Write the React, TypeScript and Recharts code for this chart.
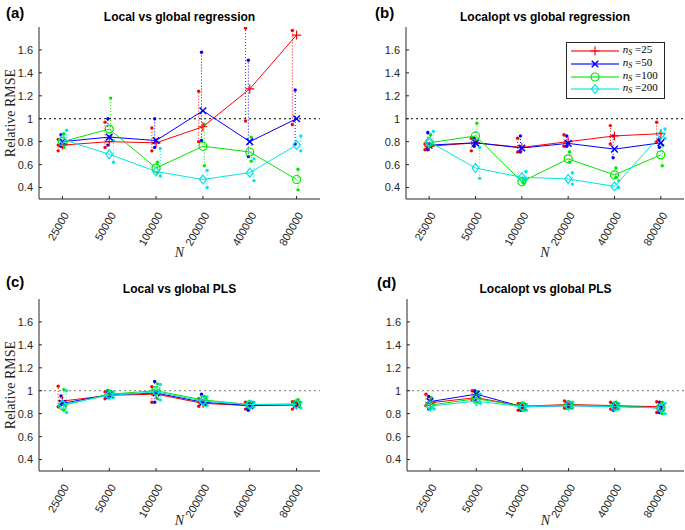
import React from 'react';
import { ComposedChart, Scatter, XAxis, YAxis, ReferenceLine, Legend } from 'recharts';

const nValues = ['25000', '50000', '100000', '200000', '400000', '800000'];
const nsValues = ['25', '50', '100', '200'];
const colors = ['#ff0000', '#0000ff', '#00e600', '#00e5e5'];
const markers = ['plus', 'cross', 'circle', 'diamond'];
const runOffsets = [-0.09, -0.03, 0.03, 0.09];
const yTicks = [0.4, 0.6, 0.8, 1, 1.2, 1.4, 1.6];

// (a) local vs global regression
const regLocalMean = [
  [0.77, 0.8, 0.79, 0.93, 1.26, 1.73],
  [0.8, 0.84, 0.81, 1.07, 0.8, 1.0],
  [0.8, 0.91, 0.57, 0.76, 0.71, 0.47],
  [0.82, 0.69, 0.54, 0.47, 0.53, 0.77],
];
const regLocalRuns = [
  [[0.72, 0.77, 0.82], [0.75, 0.97], [0.72, 0.92], [0.8, 1.24], [0.98, 1.79], [0.95, 1.77]],
  [[0.76, 0.86], [0.77, 1.0], [0.75, 1.0], [0.81, 1.58], [0.67, 1.51], [0.78, 1.25]],
  [[0.75, 0.87], [0.85, 1.18], [0.53, 0.62], [0.59, 0.95], [0.63, 0.84], [0.38, 0.56]],
  [[0.78, 0.9], [0.62, 0.81], [0.5, 0.74], [0.4, 0.55], [0.46, 0.65], [0.72, 0.85]],
];

// (b) localopt vs global regression
const regOptMean = [
  [0.76, 0.79, 0.75, 0.8, 0.85, 0.87],
  [0.77, 0.79, 0.745, 0.785, 0.735, 0.79],
  [0.79, 0.85, 0.45, 0.65, 0.51, 0.685],
  [0.8, 0.57, 0.49, 0.475, 0.41, 0.86],
];
const regOptRuns = [
  [[0.73, 0.78], [0.72, 0.83], [0.71, 0.83], [0.76, 0.86], [0.78, 0.94], [0.8, 0.97]],
  [[0.73, 0.88], [0.76, 0.83], [0.71, 0.85], [0.76, 0.85], [0.66, 0.85], [0.75, 0.82]],
  [[0.76, 0.86], [0.8, 0.96], [0.44, 0.48], [0.62, 0.71], [0.49, 0.57], [0.59, 0.77]],
  [[0.77, 0.89], [0.48, 0.75], [0.47, 0.54], [0.43, 0.53], [0.4, 0.46], [0.83, 0.91]],
];

// (c) local vs global PLS
const plsLocalMean = [
  [0.91, 0.96, 0.97, 0.89, 0.87, 0.875],
  [0.89, 0.965, 0.98, 0.9, 0.87, 0.88],
  [0.87, 0.97, 1.0, 0.92, 0.88, 0.885],
  [0.88, 0.96, 0.99, 0.91, 0.88, 0.88],
];
const plsLocalRuns = [
  [[0.86, 1.04], [0.93, 0.99], [0.9, 1.035], [0.865, 0.93], [0.84, 0.9], [0.84, 0.905]],
  [[0.88, 0.955], [0.94, 1.0], [0.9, 1.08], [0.89, 0.97], [0.83, 0.89], [0.86, 0.9]],
  [[0.83, 1.01], [0.95, 0.995], [0.93, 1.06], [0.875, 0.95], [0.86, 0.9], [0.87, 0.925]],
  [[0.81, 1.0], [0.94, 0.99], [0.92, 1.055], [0.87, 0.945], [0.86, 0.9], [0.85, 0.9]],
];

// (d) localopt vs global PLS
const plsOptMean = [
  [0.895, 0.94, 0.865, 0.88, 0.87, 0.86],
  [0.905, 0.97, 0.86, 0.87, 0.865, 0.85],
  [0.875, 0.93, 0.865, 0.875, 0.865, 0.85],
  [0.865, 0.91, 0.86, 0.87, 0.86, 0.85],
];
const plsOptRuns = [
  [[0.87, 0.97], [0.92, 1.0], [0.83, 0.89], [0.85, 0.91], [0.84, 0.9], [0.81, 0.905]],
  [[0.84, 0.95], [0.92, 1.0], [0.83, 0.89], [0.85, 0.9], [0.83, 0.89], [0.81, 0.9]],
  [[0.85, 0.94], [0.9, 0.99], [0.83, 0.89], [0.85, 0.9], [0.84, 0.9], [0.8, 0.9]],
  [[0.84, 0.9], [0.89, 0.97], [0.83, 0.88], [0.85, 0.9], [0.84, 0.89], [0.8, 0.89]],
];

const AXIS = '#262626';
const SANS = '"Liberation Sans", Arial, Helvetica, sans-serif';
const SERIF = '"Liberation Serif", "DejaVu Serif", serif';

function drawMarker(kind: string, cx: number, cy: number, color: string) {
  if (kind === 'plus')
    return <path d={`M${cx - 4.5},${cy}H${cx + 4.5}M${cx},${cy - 4.5}V${cy + 4.5}`} stroke={color} strokeWidth={1.2} fill="none" />;
  if (kind === 'cross')
    return (
      <path
        d={`M${cx - 3.3},${cy - 3.3}L${cx + 3.3},${cy + 3.3}M${cx - 3.3},${cy + 3.3}L${cx + 3.3},${cy - 3.3}`}
        stroke={color}
        strokeWidth={1.5}
        fill="none"
      />
    );
  if (kind === 'circle') return <circle cx={cx} cy={cy} r={4} stroke={color} strokeWidth={1.2} fill="none" />;
  return <path d={`M${cx},${cy - 4.5}L${cx + 3.5},${cy}L${cx},${cy + 4.5}L${cx - 3.5},${cy}Z`} stroke={color} strokeWidth={1.2} fill="none" />;
}

const NTick = (props: any) => {
  const { x, y, payload } = props;
  const label = nValues[Math.round(payload.value) - 1];
  const ax = x + 7;
  const ay = y + 16;
  return (
    <text x={ax} y={ay} textAnchor="end" transform={`rotate(-60 ${ax} ${ay})`} fontSize={11} fill={AXIS} fontFamily={SANS}>
      {label}
    </text>
  );
};

const yLabelContent = (props: any) => {
  const vb = props.viewBox || { x: 0, y: 27, width: 39, height: 172 };
  const cx = vb.x + 10;
  const cy = vb.y + vb.height / 2;
  return (
    <text x={cx} y={cy} transform={`rotate(-90 ${cx} ${cy})`} textAnchor="middle" dominantBaseline="central" fontFamily={SERIF} fontSize={14} fill={AXIS}>
      Relative RMSE
    </text>
  );
};

const makeNLabel = (offset: number) => (props: any) => {
  const vb = props.viewBox || { x: 39, y: 199, width: 281, height: 66 };
  return (
    <text x={vb.x + vb.width / 2} y={vb.y + offset} textAnchor="middle" fontFamily={SERIF} fontStyle="italic" fontSize={14} fill={AXIS}>
      N
    </text>
  );
};

const LegendBox = () => (
  <div
    style={{
      width: 99,
      height: 57,
      boxSizing: 'border-box',
      border: `1px solid ${AXIS}`,
      background: '#fff',
      paddingTop: 2,
      fontFamily: SERIF,
      fontSize: 11,
      color: '#000',
    }}
  >
    {nsValues.map((ns, i) => (
      <div key={ns} style={{ display: 'flex', alignItems: 'center', height: 12.8 }}>
        <svg width={56} height={12} style={{ flex: 'none' }}>
          <line x1={4} y1={6} x2={52} y2={6} stroke={colors[i]} strokeWidth={1.5} opacity={0.75} />
          {drawMarker(markers[i], 28, 6, colors[i])}
        </svg>
        <span style={{ lineHeight: '12px', whiteSpace: 'nowrap' }}>
          <i>n</i>
          <sub style={{ fontSize: 8, fontStyle: 'italic', verticalAlign: -2 }}>S</sub>
          {' '}={ns}
        </span>
      </div>
    ))}
  </div>
);

type PanelProps = {
  letter: string;
  title: string;
  means: number[][];
  runs: number[][][];
  left: number;
  top: number;
  width: number;
  marginTop: number;
  marginRight: number;
  yAxisWidth: number;
  xAxisHeight: number;
  nOffset: number;
  yLabel?: boolean;
  legend?: boolean;
  refColor: string;
  titleTop: number;
  letterLeft: number;
  letterTop: number;
};

const Panel: React.FC<PanelProps> = (p) => {
  const plotLeft = p.yAxisWidth;
  const plotWidth = p.width - p.yAxisWidth - p.marginRight;
  // one dotted min-max segment per series and N
  const ranges = p.runs.flatMap((sr, s) =>
    sr.map((vals, i) => ({
      key: `range${s}-${i}`,
      color: colors[s],
      data: [
        { x: i + 1 + runOffsets[s], y: Math.min(...vals) },
        { x: i + 1 + runOffsets[s], y: Math.max(...vals) },
      ],
    }))
  );
  return (
    <div style={{ position: 'absolute', left: p.left, top: p.top, width: p.width, height: 265 }}>
      <ComposedChart width={p.width} height={265} margin={{ top: p.marginTop, right: p.marginRight, bottom: 0, left: 0 }}>
        <XAxis
          type="number"
          dataKey="x"
          domain={[0.5, 6.5]}
          ticks={[1, 2, 3, 4, 5, 6]}
          interval={0}
          height={p.xAxisHeight}
          tickSize={-3}
          tickMargin={3}
          tick={<NTick />}
          stroke={AXIS}
          allowDataOverflow
          label={makeNLabel(p.nOffset)}
        />
        <YAxis
          type="number"
          dataKey="y"
          domain={[0.3, 1.8]}
          ticks={yTicks}
          interval={0}
          width={p.yAxisWidth}
          tickSize={-3}
          tickMargin={9}
          tick={{ fontSize: 11, fill: AXIS, fontFamily: SANS }}
          stroke={AXIS}
          allowDataOverflow
          label={p.yLabel ? yLabelContent : undefined}
        />
        <ReferenceLine y={1} stroke={p.refColor} strokeDasharray="2 3" strokeWidth={1} />
        {ranges.map((r) => (
          <Scatter
            key={r.key}
            data={r.data}
            line={{ stroke: r.color, strokeWidth: 1, strokeDasharray: '1 2' }}
            lineType="joint"
            shape={() => <g />}
            legendType="none"
            isAnimationActive={false}
          />
        ))}
        {p.runs.map((sr, s) => (
          <Scatter
            key={`runs${s}`}
            data={sr.flatMap((vals, i) => vals.map((v) => ({ x: i + 1 + runOffsets[s], y: v })))}
            shape={(d: any) => <circle cx={d.cx} cy={d.cy} r={1.7} fill={colors[s]} />}
            legendType="none"
            isAnimationActive={false}
          />
        ))}
        {p.means.map((sm, s) => (
          <Scatter
            key={`mean${s}`}
            name={`nS=${nsValues[s]}`}
            data={sm.map((v, i) => ({ x: i + 1, y: v }))}
            line={{ stroke: colors[s], strokeWidth: 1 }}
            lineType="joint"
            shape={(d: any) => drawMarker(markers[s], d.cx, d.cy, colors[s])}
            isAnimationActive={false}
          />
        ))}
        {p.legend && (
          <Legend
            layout="horizontal"
            verticalAlign="middle"
            align="center"
            wrapperStyle={{ top: 41.7, left: 225.7, width: 99, height: 57 }}
            content={() => <LegendBox />}
          />
        )}
      </ComposedChart>
      <div
        style={{
          position: 'absolute',
          left: plotLeft,
          width: plotWidth,
          top: p.titleTop,
          textAlign: 'center',
          fontFamily: SANS,
          fontWeight: 'bold',
          fontSize: 12,
          lineHeight: '14px',
          color: '#000',
        }}
      >
        {p.title}
      </div>
      <div
        style={{
          position: 'absolute',
          left: p.letterLeft,
          top: p.letterTop,
          fontFamily: SANS,
          fontWeight: 'bold',
          fontSize: 15,
          lineHeight: '18px',
          color: '#000',
        }}
      >
        {p.letter}
      </div>
    </div>
  );
};

export default function App() {
  return (
    <div style={{ position: 'absolute', left: 0, top: 0, width: 685, height: 530, background: '#fff', fontFamily: SANS }}>
      <Panel
        letter="(a)"
        title="Local vs global regression"
        means={regLocalMean}
        runs={regLocalRuns}
        left={0}
        top={0}
        width={340}
        marginTop={27}
        marginRight={20}
        yAxisWidth={39}
        xAxisHeight={66}
        nOffset={58}
        yLabel
        refColor="#000"
        titleTop={10}
        letterLeft={6}
        letterTop={4}
      />
      <Panel
        letter="(b)"
        title="Localopt vs global regression"
        means={regOptMean}
        runs={regOptRuns}
        left={340}
        top={0}
        width={345}
        marginTop={27}
        marginRight={1}
        yAxisWidth={66}
        xAxisHeight={66}
        nOffset={58}
        legend
        refColor="#000"
        titleTop={10}
        letterLeft={35}
        letterTop={4}
      />
      <Panel
        letter="(c)"
        title="Local vs global PLS"
        means={plsLocalMean}
        runs={plsLocalRuns}
        left={0}
        top={265}
        width={340}
        marginTop={34}
        marginRight={20}
        yAxisWidth={39}
        xAxisHeight={59}
        nOffset={54}
        yLabel
        refColor="#777"
        titleTop={17}
        letterLeft={6}
        letterTop={8}
      />
      <Panel
        letter="(d)"
        title="Localopt vs global PLS"
        means={plsOptMean}
        runs={plsOptRuns}
        left={340}
        top={265}
        width={345}
        marginTop={34}
        marginRight={1}
        yAxisWidth={67}
        xAxisHeight={59}
        nOffset={54}
        refColor="#777"
        titleTop={17}
        letterLeft={37}
        letterTop={9}
      />
    </div>
  );
}
